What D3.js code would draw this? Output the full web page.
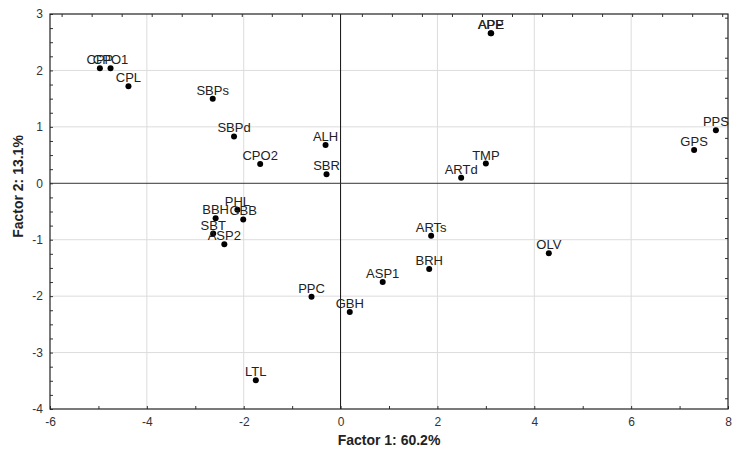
<!DOCTYPE html>
<html><head><meta charset="utf-8">
<script src="https://cdn.jsdelivr.net/npm/d3@7"></script>
<style>body{margin:0;background:#fff;} svg{display:block;font-family:"Liberation Sans",Arial,sans-serif;}</style>
</head><body><div id="chart"></div>
<script>
const labels = ["CPP","CPO1","CPL","SBPs","SBPd","CPO2","ALH","SBR","APP","APE","TMP","ARTd","PPS","GPS","PHL","GBB","BBH","SBT","ASP2","ARTs","OLV","BRH","ASP1","PPC","GBH","LTL"];
const factor1 = [-4.97,-4.75,-4.38,-2.64,-2.20,-1.66,-0.31,-0.29,3.10,3.11,3.00,2.49,7.75,7.30,-2.13,-2.01,-2.58,-2.63,-2.40,1.87,4.30,1.83,0.87,-0.60,0.19,-1.75];
const factor2 = [2.04,2.04,1.72,1.50,0.83,0.34,0.68,0.16,2.66,2.66,0.35,0.10,0.94,0.59,-0.47,-0.64,-0.62,-0.89,-1.08,-0.93,-1.24,-1.52,-1.75,-2.01,-2.28,-3.49];
const xTicks = [-6,-4,-2,0,2,4,6,8];
const yTicks = [-4,-3,-2,-1,0,1,2,3];
const xTitle = "Factor 1: 60.2%";
const yTitle = "Factor 2: 13.1%";

const W = 742, H = 461;
const m = {left:50, right:14, top:14, bottom:52};
const svg = d3.select("#chart").append("svg").attr("width",W).attr("height",H);
const x = d3.scaleLinear().domain([-6,8]).range([m.left, W-m.right]);
const y = d3.scaleLinear().domain([-4,3]).range([H-m.bottom, m.top]);

// grid
svg.append("g").selectAll("line").data(xTicks.filter(v=>v>-6&&v<8&&v!==0)).join("line")
  .attr("x1",d=>x(d)).attr("x2",d=>x(d)).attr("y1",y(3)).attr("y2",y(-4))
  .attr("stroke","#dcdcdc").attr("stroke-width",1);
svg.append("g").selectAll("line").data(yTicks.filter(v=>v>-4&&v<3&&v!==0)).join("line")
  .attr("y1",d=>y(d)).attr("y2",d=>y(d)).attr("x1",x(-6)).attr("x2",x(8))
  .attr("stroke","#dcdcdc").attr("stroke-width",1);
// zero lines
svg.append("line").attr("x1",x(0)).attr("x2",x(0)).attr("y1",y(3)).attr("y2",y(-4)).attr("stroke","#111");
svg.append("line").attr("y1",y(0)).attr("y2",y(0)).attr("x1",x(-6)).attr("x2",x(8)).attr("stroke","#333");

// axes
const fmt = d => String(d);
const xAx = svg.append("g").attr("transform",`translate(0,${y(-4)})`)
  .call(d3.axisBottom(x).tickValues(xTicks).tickSize(0).tickPadding(8).tickFormat(fmt));
const xMinor = svg.append("g").attr("transform",`translate(0,${y(-4)})`)
  .call(d3.axisTop(x).tickValues(d3.range(-6,8.01,1)).tickSize(3).tickFormat(""));
const yAx = svg.append("g").attr("transform",`translate(${x(-6)},0)`)
  .call(d3.axisLeft(y).tickValues(yTicks).tickSize(0).tickPadding(7).tickFormat(fmt));
const yMinor = svg.append("g").attr("transform",`translate(${x(-6)},0)`)
  .call(d3.axisRight(y).tickValues(d3.range(-4,3.01,0.25)).tickSize(3).tickFormat(""));
const topAx = svg.append("g").attr("transform",`translate(0,${y(3)})`)
  .call(d3.axisBottom(x).tickValues(d3.range(-5.76,8,0.62)).tickSize(3).tickFormat(""));
const rightAx = svg.append("g").attr("transform",`translate(${x(8)},0)`)
  .call(d3.axisLeft(y).tickValues(d3.range(-3.81,3,0.355)).tickSize(3).tickFormat(""));
[xAx,yAx,xMinor,yMinor,topAx,rightAx].forEach(g=>{
  g.select(".domain").remove();
  g.selectAll("line").attr("stroke","#333");
  g.selectAll("text").attr("fill","#333").style("font-size","12px").style("font-family","'Liberation Sans',Arial,sans-serif");
});
// frame
svg.append("rect").attr("x",x(-6)).attr("y",y(3)).attr("width",x(8)-x(-6)).attr("height",y(-4)-y(3))
  .attr("fill","none").attr("stroke","#222").attr("stroke-width",1.2);

// titles
svg.append("text").attr("x",(x(-6)+x(8))/2).attr("y",445).attr("text-anchor","middle")
  .style("font-size","14px").style("font-weight","bold").attr("fill","#222").text(xTitle);
svg.append("text").attr("transform",`translate(23,${(y(3)+y(-4))/2 - 25}) rotate(-90)`).attr("text-anchor","middle")
  .style("font-size","14px").style("font-weight","bold").attr("fill","#222").text(yTitle);

// points
const data = labels.map((l,i)=>({l, a:factor1[i], b:factor2[i]}));
svg.append("g").selectAll("circle").data(data).join("circle")
  .attr("cx",d=>x(d.a)).attr("cy",d=>y(d.b)).attr("r",3).attr("fill","#000");
svg.append("g").selectAll("text").data(data).join("text")
  .attr("x",d=>x(d.a)).attr("y",d=>y(d.b)-4).attr("text-anchor","middle")
  .style("font-size","13px").attr("fill","#222").text(d=>d.l);
</script></body></html>
